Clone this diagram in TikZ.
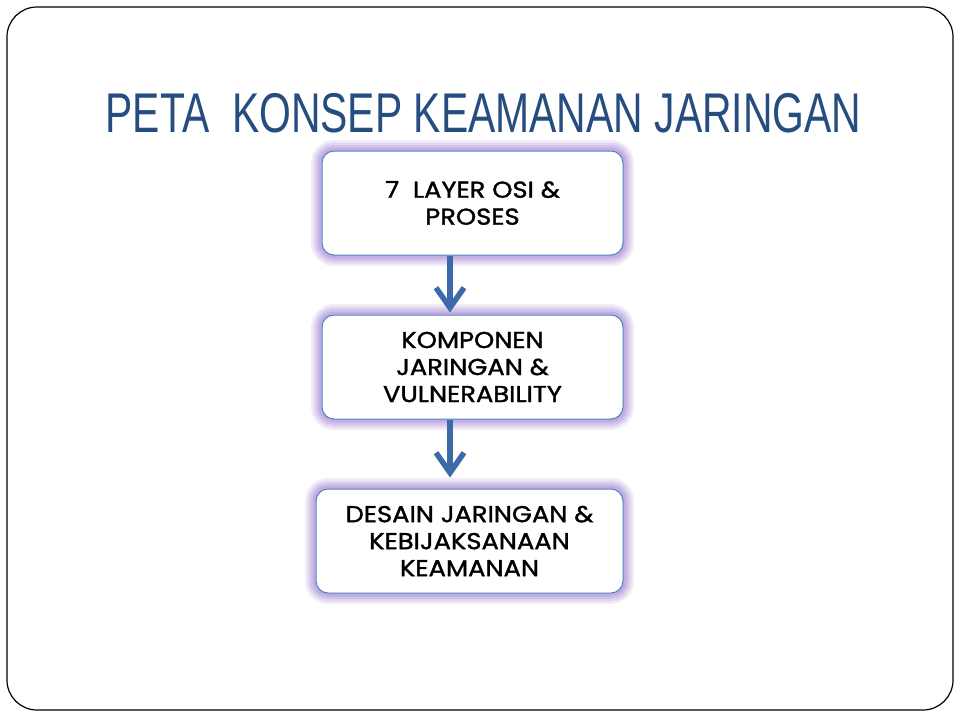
\documentclass[tikz,border=0pt]{standalone}
\usepackage{fontspec}
\setmainfont{Poppins}
\newfontfamily\boxfont[FakeBold=1.5,FakeStretch=1.12]{Poppins}
\newfontfamily\titlefont[FakeStretch=0.73]{Liberation Sans}
\usetikzlibrary{arrows.meta,calc}
\definecolor{titleblue}{HTML}{264D80}
\definecolor{arrowblue}{HTML}{3C69A8}
\definecolor{boxblue}{HTML}{4F81BD}
\definecolor{glowc}{HTML}{B59BDD}
\tikzset{
  glowbox/.style={
    preaction={draw=glowc,line width=22pt,opacity=0.18,rounded corners=12pt},
    preaction={draw=glowc,line width=17pt,opacity=0.25,rounded corners=12pt},
    preaction={draw=glowc,line width=12pt,opacity=0.35,rounded corners=12pt},
    preaction={draw=glowc,line width=7pt,opacity=0.5,rounded corners=12pt},
    draw=boxblue, line width=1pt, fill=white, rounded corners=12pt,
    align=center, font=\boxfont\fontsize{23}{27}\selectfont, text=black,
    inner sep=0pt},
  flowarrow/.style={draw=arrowblue, line width=5.5pt,
    -{Straight Barb[length=20pt,width=28pt]}},
  frame/.style={draw=black, line width=1.2pt, rounded corners=30pt}
}
\begin{document}
\begin{tikzpicture}[x=1pt,y=-1pt]
\useasboundingbox (0,0) rectangle (960,720);
\fill[white] (0,0) rectangle (960,720);
\draw[frame] (7,7) rectangle (953,710);
\node[anchor=base, text=titleblue, font=\titlefont\fontsize{56}{60}\selectfont] (title) at (483.5,132) {PETA\ \ KONSEP KEAMANAN JARINGAN};
\node[glowbox, minimum width=301pt, minimum height=104pt] (b1) at (472.5,203) {7\ \ LAYER OSI \&\\PROSES};
\node[glowbox, minimum width=301pt, minimum height=104pt] (b2) at (472.5,367) {KOMPONEN\\JARINGAN \&\\VULNERABILITY};
\node[glowbox, minimum width=307pt, minimum height=104pt] (b3) at (469.5,541) {DESAIN JARINGAN \&\\KEBIJAKSANAAN\\KEAMANAN};
\coordinate (ax) at (450,0);
\draw[flowarrow, shorten >=2pt] (b1.south -| ax) -- (b2.north -| ax);
\draw[flowarrow, shorten >=11pt] (b2.south -| ax) -- (b3.north -| ax);
\end{tikzpicture}
\end{document}
